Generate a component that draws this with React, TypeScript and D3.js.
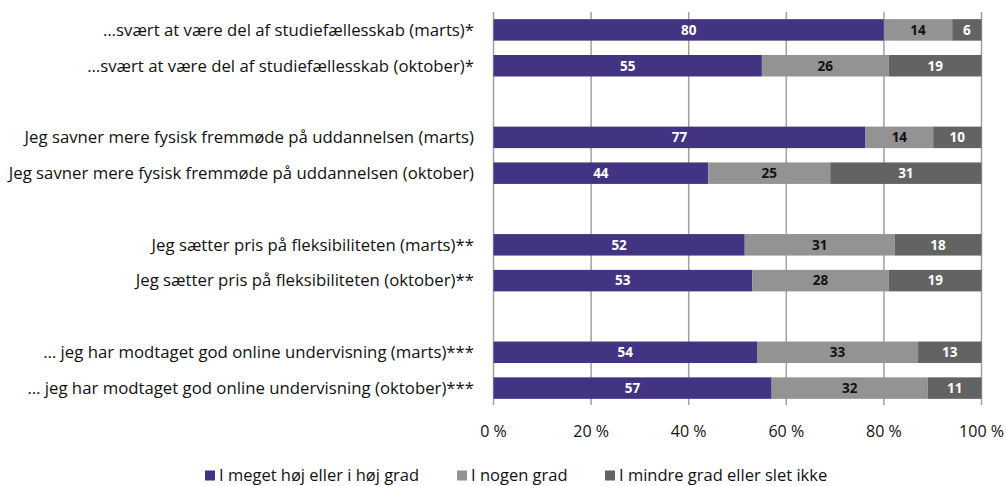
import React from "react";
import * as d3 from "d3";

const categories = [
  "…svært at være del af studiefællesskab (marts)*",
  "…svært at være del af studiefællesskab (oktober)*",
  "Jeg savner mere fysisk fremmøde på uddannelsen (marts)",
  "Jeg savner mere fysisk fremmøde på uddannelsen (oktober)",
  "Jeg sætter pris på fleksibiliteten (marts)**",
  "Jeg sætter pris på fleksibiliteten (oktober)**",
  "… jeg har modtaget god online undervisning (marts)***",
  "… jeg har modtaget god online undervisning (oktober)***",
];
const high = [80, 55, 77, 44, 52, 53, 54, 57];
const some = [14, 26, 14, 25, 31, 28, 33, 32];
const low = [6, 19, 10, 31, 18, 19, 13, 11];
const seriesNames = ["I meget høj eller i høj grad", "I nogen grad", "I mindre grad eller slet ikke"];
const seriesKeys = ["high", "some", "low"];
const ticks = [0, 0.2, 0.4, 0.6, 0.8, 1];

const colors = ["#433483", "#939393", "#636363"];
const labelColors = ["#ffffff", "#111111", "#ffffff"];
const FONT = "'Open Sans', sans-serif";

export default function App() {
  const W = 1006, H = 486;
  const x0 = 493.5, x1 = 981.5, yTop = 12, yBot = 406;

  const domain: string[] = [];
  categories.forEach((c, i) => {
    domain.push(c);
    if (i % 2 === 1 && i < categories.length - 1) domain.push("__gap" + i);
  });

  const y = d3.scaleBand<string>().domain(domain).range([yTop, yBot]).paddingInner(0.4).paddingOuter(0.2);
  const x = d3.scaleLinear().domain([0, 1]).range([x0, x1]);

  const rows = categories.map((c, i) => ({ cat: c, high: high[i], some: some[i], low: low[i] }));
  const stacked = d3.stack<any>().keys(seriesKeys).offset(d3.stackOffsetExpand)(rows);

  const fmt = (v: number) => `${Math.round(v * 100)} %`;

  const legendX = [205, 457, 605];

  return (
    <svg width={W} height={H} style={{ position: "absolute", left: 0, top: 0 }} fontFamily={FONT}>
      <rect width={W} height={H} fill="#fff" />
      {ticks.map((t) => (
        <line key={t} x1={x(t)} x2={x(t)} y1={yTop} y2={yBot - 1} stroke="#a0a0a0" strokeWidth={1.5} />
      ))}
      {stacked.map((s, si) => (
        <g key={s.key}>
          {s.map((d, i) => {
            const yy = y(categories[i])!;
            const bw = y.bandwidth();
            const xa = x(d[0]), xb = x(d[1]);
            const val = (rows[i] as any)[s.key];
            return (
              <g key={i}>
                <rect x={xa} y={yy} width={xb - xa} height={bw} fill={colors[si]} />
                <text
                  x={(xa + xb) / 2}
                  y={yy + bw / 2}
                  dy="0.36em"
                  textAnchor="middle"
                  fontSize={13.5}
                  fontWeight={700}
                  fill={labelColors[si]}
                >
                  {val}
                </text>
              </g>
            );
          })}
        </g>
      ))}
      {categories.map((c) => (
        <text key={c} x={474} y={y(c)! + y.bandwidth() / 2} dy="0.35em" textAnchor="end" fontSize={16.75} fill="#111">
          {c}
        </text>
      ))}
      {ticks.map((t) => (
        <text key={t} x={x(t)} y={431} dy="0.35em" textAnchor="middle" fontSize={16} fill="#111">
          {fmt(t)}
        </text>
      ))}
      {seriesNames.map((n, i) => (
        <g key={n} transform={`translate(${legendX[i]},475.5)`}>
          <rect x={0} y={-5} width={10} height={10} fill={colors[i]} />
          <text x={14} y={0} dy="0.35em" fontSize={16.5} fill="#111">
            {n}
          </text>
        </g>
      ))}
    </svg>
  );
}
